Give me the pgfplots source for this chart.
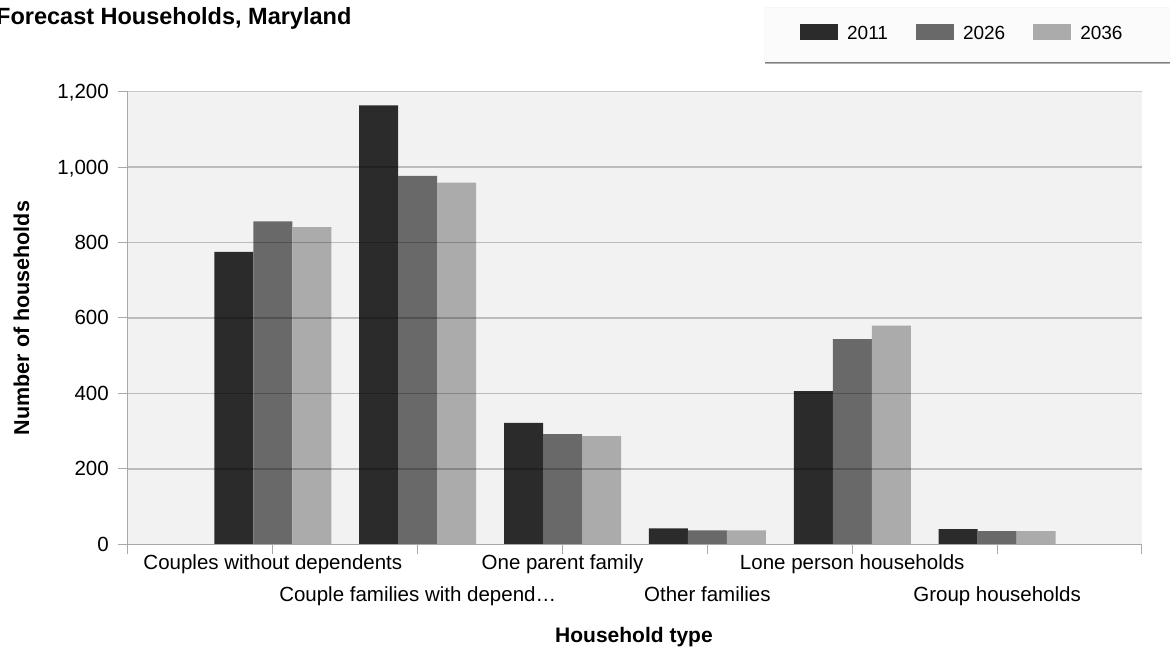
\documentclass[border=0pt]{standalone}
\usepackage{fontspec}
\setmainfont{Liberation Sans}
\usepackage{pgfplots}
\pgfplotsset{compat=1.18}
\definecolor{cA}{HTML}{2B2B2B}
\definecolor{cB}{HTML}{696969}
\definecolor{cC}{HTML}{ABABAB}
\definecolor{bgc}{HTML}{F2F2F2}
\definecolor{axc}{HTML}{A8A8A8}
\begin{document}
\begin{tikzpicture}
\path[use as bounding box] (0,0) rectangle (1170pt,648pt);
\node[anchor=base west, inner sep=0pt, font=\fontsize{23.5}{27}\selectfont\bfseries] at (-4pt,623pt) {Forecast Households, Maryland};
\fill[black!30] (765pt,583.5pt) rectangle (1175pt,587pt);
\fill[black!50] (765pt,584.5pt) rectangle (1175pt,587pt);
\filldraw[fill=white!98.5!black, draw=black!3] (764pt,587pt) rectangle (1175pt,641pt);
\begin{axis}[
  at={(128pt,103.7pt)}, anchor=south west,
  width=1014pt, height=452.6pt, scale only axis,
  xmin=0, xmax=7, ymin=0, ymax=1200,
  enlarge x limits=false,
  ybar=0pt, bar width=39pt,
  axis lines=left, axis line style={-, draw=axc, line width=1pt},
  axis background/.style={fill=bgc},
  axis on top,
  ymajorgrids, grid style={black, opacity=0.22, line width=1.3pt},
  xtick={0,...,7},
  xticklabels={{},{Couples without dependents},{\raisebox{-32pt}{Couple families with depend…}},{One parent family},{\raisebox{-32pt}{Other families}},{Lone person households},{\raisebox{-32pt}{Group households}},{}},
  ytick={0,200,...,1200},
  tick align=outside, major tick length=10pt,
  tick style={draw=axc, line width=1pt},
  yticklabel style={font=\fontsize{20.5}{24}\selectfont, anchor=east, inner sep=0pt, text height=14pt, text depth=0pt, xshift=-9pt,
    /pgf/number format/1000 sep={,}, /pgf/number format/assume math mode=true},
  xticklabel style={font=\fontsize{20.5}{24}\selectfont, anchor=north, inner sep=0pt, text height=15pt, text depth=0pt, yshift=0pt},
  ylabel={Number of households},
  ylabel style={at={(axis description cs:-0.105,0.5)}, anchor=center, rotate=0, font=\fontsize{21.5}{25}\selectfont\bfseries},
  xlabel={Household type},
  xlabel style={at={(axis description cs:0.499,-0.218)}, anchor=base, font=\fontsize{21}{25}\selectfont\bfseries},
  legend columns=3,
  legend style={at={(axis description cs:0.6627,1.1313)}, anchor=west, draw=none, fill=none, inner sep=0pt,
    font=\fontsize{19}{22}\selectfont, nodes={inner sep=0pt},
    /tikz/every odd column/.append style={column sep=9pt},
    /tikz/every even column/.append style={column sep=28pt}},
  legend image code/.code={\path[#1, draw=none] (0pt,-6.8pt) rectangle (38pt,9.5pt);},
]
\addplot[fill=cA, draw=none] coordinates {(1,775) (2,1164) (3,322) (4,42) (5,406) (6,40)};
\addplot[fill=cB, draw=none] coordinates {(1,856) (2,977) (3,292) (4,37) (5,544) (6,35)};
\addplot[fill=cC, draw=none] coordinates {(1,841) (2,959) (3,287) (4,37) (5,580) (6,35)};
\legend{2011,2026,2036}
\end{axis}
\end{tikzpicture}
\end{document}
